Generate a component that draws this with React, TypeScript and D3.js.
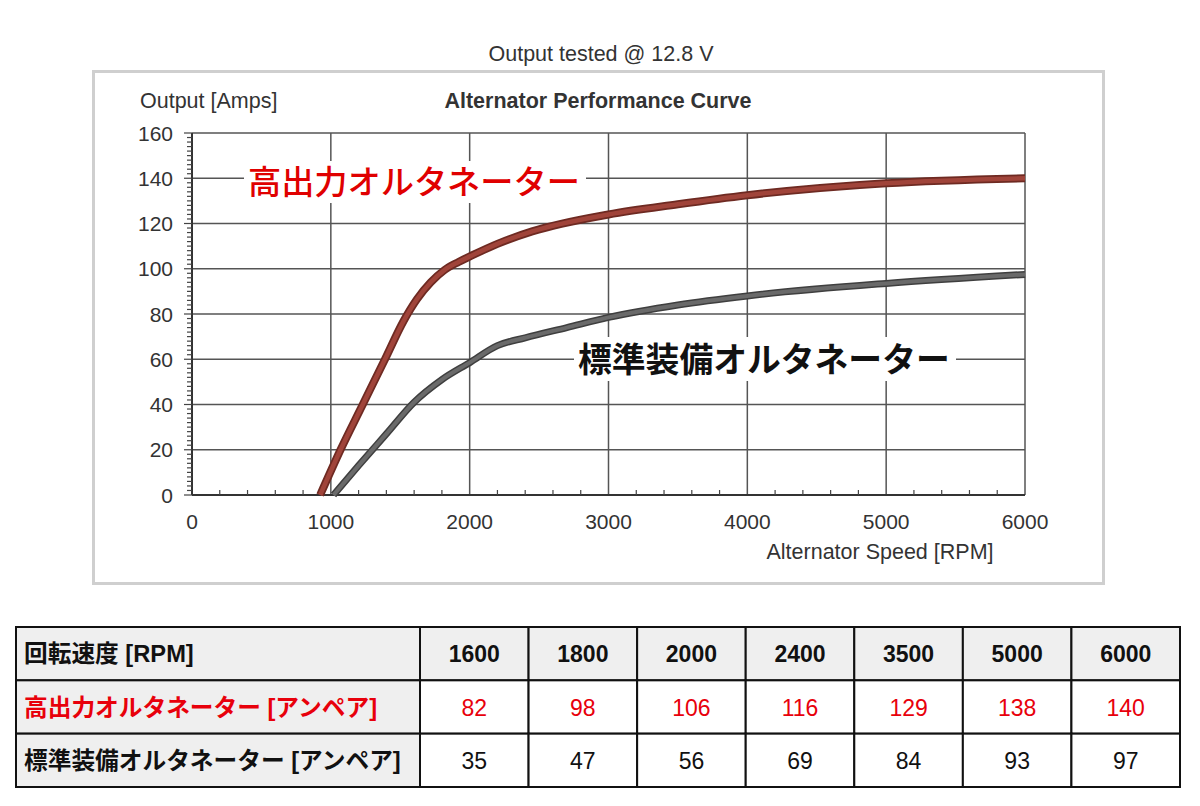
import React from "react";
import * as d3 from "d3";

const highRpm = [923, 1070, 1230, 1390, 1525, 1620, 1720, 1820, 1920, 2020, 2200, 2450, 3000, 3500, 4000, 5000, 6000];
const highAmps = [0, 20, 40, 60, 77, 86.5, 94, 99.5, 103, 106, 111, 116.5, 124, 128.5, 132.5, 137.8, 140];
const stdRpm = [1019, 1200, 1400, 1600, 1800, 2000, 2200, 2400, 2700, 3000, 3500, 4000, 5000, 6000];
const stdAmps = [0, 13, 27, 41, 51, 58.5, 66, 69.5, 74, 78.5, 84, 88, 93.5, 97.5];

const yTicks = [0, 20, 40, 60, 80, 100, 120, 140, 160];
const xTicks = [0, 1000, 2000, 3000, 4000, 5000, 6000];

const tableHeaderLabel = "回転速度 [RPM]";
const tableRpm = ["1600", "1800", "2000", "2400", "3500", "5000", "6000"];
const tableHighLabel = "高出力オルタネーター [アンペア]";
const tableHigh = ["82", "98", "106", "116", "129", "138", "140"];
const tableStdLabel = "標準装備オルタネーター [アンペア]";
const tableStd = ["35", "47", "56", "69", "84", "93", "97"];

const LATIN = "'Liberation Sans', Arial, 'Noto Sans CJK JP', sans-serif";
const CJK = "'Noto Sans CJK JP', sans-serif";

export default function App() {
  const x = d3.scaleLinear().domain([0, 6000]).range([192, 1025]);
  const y = d3.scaleLinear().domain([0, 160]).range([495, 133]);

  const line = d3
    .line<[number, number]>()
    .x((d) => x(d[0]))
    .y((d) => y(d[1]))
    .curve(d3.curveMonotoneX);

  const highPts = highRpm.map((r, i) => [r, highAmps[i]] as [number, number]);
  const stdPts = stdRpm.map((r, i) => [r, stdAmps[i]] as [number, number]);

  const minorY = d3.range(0, 161, 2);
  const minorX = d3.range(0, 6001, 200).filter((v) => v % 1000 !== 0);

  const colX = d3.scaleBand<string>().domain(tableRpm).range([420, 1180]);
  const rows = [
    { label: tableHeaderLabel, values: tableRpm, color: "#111", bold: true, bg: "#efefef" },
    { label: tableHighLabel, values: tableHigh, color: "#e8000b", bold: false, bg: "#fff" },
    { label: tableStdLabel, values: tableStd, color: "#111", bold: false, bg: "#fff" },
  ];
  const rowY = d3.scaleBand<number>().domain([0, 1, 2]).range([627, 787]);

  return (
    <svg
      width={1200}
      height={806}
      style={{ position: "absolute", left: 0, top: 0, background: "#fff" }}
    >
      <text x={601} y={61} textAnchor="middle" fontFamily={LATIN} fontSize={21.5} fill="#333">
        Output tested @ 12.8 V
      </text>
      <rect x={93.5} y={71.5} width={1010} height={512} fill="#fff" stroke="#cfcfcf" strokeWidth={3} />
      <text x={140} y={108} fontFamily={LATIN} fontSize={21.5} fill="#333">
        Output [Amps]
      </text>
      <text x={598} y={108} textAnchor="middle" fontFamily={LATIN} fontSize={21.5} fontWeight="bold" fill="#333">
        Alternator Performance Curve
      </text>

      {yTicks.map((t) => (
        <line key={"gy" + t} x1={x(0)} x2={x(6000)} y1={y(t)} y2={y(t)} stroke="#555" strokeWidth={1.5} />
      ))}
      {xTicks.map((t) => (
        <line key={"gx" + t} x1={x(t)} x2={x(t)} y1={y(0)} y2={y(160)} stroke="#555" strokeWidth={1.5} />
      ))}
      <line x1={x(0)} x2={x(0)} y1={y(0)} y2={y(160)} stroke="#333" strokeWidth={2} />
      <line x1={x(0)} x2={x(6000)} y1={y(0)} y2={y(0)} stroke="#333" strokeWidth={2} />
      {minorY.map((t) => (
        <line key={"my" + t} x1={x(0) - (t % 20 === 0 ? 8 : 5)} x2={x(0)} y1={y(t)} y2={y(t)} stroke="#444" strokeWidth={1.2} />
      ))}
      {minorX.map((t) => (
        <line key={"mx" + t} x1={x(t)} x2={x(t)} y1={y(0)} y2={y(0) - 5} stroke="#444" strokeWidth={1.2} />
      ))}

      {yTicks.map((t) => (
        <text key={"ty" + t} x={173} y={y(t) + 7.5} textAnchor="end" fontFamily={LATIN} fontSize={21} fill="#333">
          {t}
        </text>
      ))}
      {xTicks.map((t) => (
        <text key={"tx" + t} x={x(t)} y={529} textAnchor="middle" fontFamily={LATIN} fontSize={21} fill="#333">
          {t}
        </text>
      ))}
      <text x={880} y={559} textAnchor="middle" fontFamily={LATIN} fontSize={21.5} fill="#333">
        Alternator Speed [RPM]
      </text>

      <rect x={244} y={161} width={342} height={42} fill="#fff" />
      <text x={248} y={194} fontFamily={CJK} fontSize={33.2} fontWeight={500} fill="#e00000">
        高出力オルタネーター
      </text>
      <rect x={574} y={337} width={382} height={44} fill="#fff" />
      <text x={578} y={372} fontFamily={CJK} fontSize={33.8} fontWeight="bold" fill="#111">
        標準装備オルタネーター
      </text>

      <path d={line(stdPts) || ""} fill="none" stroke="#3f3f3f" strokeWidth={7} />
      <path d={line(stdPts) || ""} fill="none" stroke="#6a6a6a" strokeWidth={4} />
      <path d={line(highPts) || ""} fill="none" stroke="#6e2a22" strokeWidth={8} />
      <path d={line(highPts) || ""} fill="none" stroke="#a0443a" strokeWidth={4.5} />

      {rows.map((r, i) => {
        const ry = rowY(i) as number;
        const h = rowY.bandwidth();
        return (
          <g key={"row" + i}>
            <rect x={16} y={ry} width={404} height={h} fill="#efefef" stroke="#111" strokeWidth={2} />
            <text x={24} y={ry + h / 2 + 8.5} fontFamily={LATIN} fontSize={23.7} fontWeight="bold" fill={r.color}>
              {r.label}
            </text>
            {r.values.map((v, j) => {
              const cx = colX(tableRpm[j]) as number;
              return (
                <g key={"c" + j}>
                  <rect x={cx} y={ry} width={colX.bandwidth()} height={h} fill={r.bg} stroke="#111" strokeWidth={2} />
                  <text
                    x={cx + colX.bandwidth() / 2}
                    y={ry + h / 2 + 8.5}
                    textAnchor="middle"
                    fontFamily={LATIN}
                    fontSize={23}
                    fontWeight={r.bold ? "bold" : "normal"}
                    fill={r.color}
                  >
                    {v}
                  </text>
                </g>
              );
            })}
          </g>
        );
      })}
    </svg>
  );
}
